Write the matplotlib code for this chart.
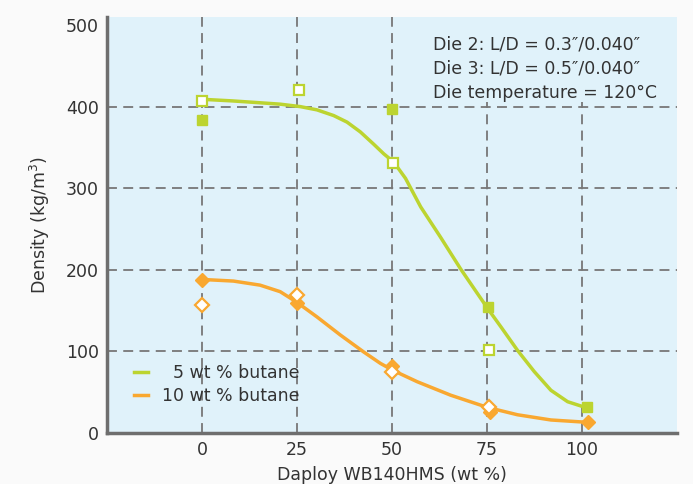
import matplotlib
matplotlib.use('Agg')
import matplotlib.pyplot as plt
from matplotlib.patches import Rectangle

plt.rcParams['font.family'] = ['DejaVu Sans']

GREEN = '#bcd430'
ORANGE = '#f9a830'
BG = '#e0f2fa'

# 5 wt % butane
g_fill_x = [0, 50, 75.4, 101.5]
g_fill_y = [383, 397, 154, 31]
g_open_x = [0, 25.6, 50.4, 75.5]
g_open_y = [407, 420, 331, 101]
g_curve_x = [0, 8, 14.4, 20.6, 25.9, 30.3, 34.7, 38.2, 41.7, 45.2, 47.9, 50.5, 53.6,
             57.6, 62.8, 68.1, 72.5, 75.6, 78.7, 83.1, 87.5, 91.9, 96.3, 100.3, 101.6]
g_curve_y = [409, 407, 405, 403, 400, 396, 389, 381, 369, 354, 342, 332, 312,
             277, 240, 201, 171, 150, 130, 101, 75, 52, 38, 32, 31]

# 10 wt % butane
o_fill_x = [0, 25, 50, 75.8, 101.7]
o_fill_y = [187, 159, 82, 26, 13]
o_open_x = [0, 25, 50, 75.6]
o_open_y = [157, 169, 74, 32]
o_curve_x = [0, 8.3, 15.3, 20.6, 25, 30.3, 36.4, 42.6, 47, 50.5, 56.7, 65.5, 75.2,
             83.1, 91.9, 101.6]
o_curve_y = [188, 186, 181, 173, 160, 142, 120, 99, 85, 76, 62.5, 46, 31,
             22, 15.6, 12.7]

xticks = [0, 25, 50, 75, 100]
yticks = [0, 100, 200, 300, 400, 500]
grid_y = [100, 200, 300, 400]

fig = plt.figure(figsize=(6.93, 4.84), dpi=100, facecolor='#fafafa')
ax = fig.add_axes([0.1544, 0.106, 0.822, 0.859])
ax.set_facecolor(BG)

for gx in xticks:
    ax.axvline(gx, color='#777777', ls=(0, (5.5, 3.5)), lw=1.3, zorder=1)
for gy in grid_y:
    ax.axhline(gy, color='#777777', ls=(0, (5.5, 3.5)), lw=1.3, zorder=1)

# the note box hides the grid behind it
ax.add_patch(Rectangle((0.558, 0.795), 0.442, 0.205, transform=ax.transAxes,
                       facecolor=BG, edgecolor='none', zorder=1.5))

ax.plot(g_curve_x, g_curve_y, color=GREEN, lw=2.5, zorder=2, label='\u20075 wt % butane')
ax.plot(o_curve_x, o_curve_y, color=ORANGE, lw=2.5, zorder=2, label='10 wt % butane')

ax.plot(g_fill_x, g_fill_y, ls='none', marker='s', ms=7, color=GREEN, zorder=3)
ax.plot(g_open_x, g_open_y, ls='none', marker='s', ms=7, mfc='white', mec=GREEN, mew=1.6, zorder=3)
ax.plot(o_fill_x, o_fill_y, ls='none', marker='D', ms=7, color=ORANGE, zorder=3)
ax.plot(o_open_x, o_open_y, ls='none', marker='D', ms=7, mfc='white', mec=ORANGE, mew=1.6, zorder=4)

ax.set_xlim(-25, 125)
ax.set_ylim(0, 510)
ax.set_xticks(xticks)
ax.set_yticks(yticks)
ax.tick_params(length=0, labelsize=12.5, colors='#333333', pad=6)

for s in ['top', 'right']:
    ax.spines[s].set_visible(False)
for s in ['left', 'bottom']:
    ax.spines[s].set_color('#6e6e6e')
    ax.spines[s].set_linewidth(2.5)

ax.set_xlabel('Daploy WB140HMS (wt %)', fontsize=12.5, color='#333333', labelpad=5)
ax.set_ylabel('Density (kg/m$^3$)', fontsize=12.5, color='#333333', labelpad=10)

ax.text(0.573, 0.955, 'Die 2: L/D = 0.3\u2033/0.040\u2033\nDie 3: L/D = 0.5\u2033/0.040\u2033\nDie temperature = 120\u00b0C',
        transform=ax.transAxes, ha='left', va='top', fontsize=12.5, color='#333333',
        linespacing=1.45, zorder=2)

leg = ax.legend(loc='lower left', bbox_to_anchor=(0.02, 0.03), frameon=False, fontsize=12.5,
                handlelength=0.8, handletextpad=0.8, labelspacing=0.25)
for t in leg.get_texts():
    t.set_color('#333333')

fig.savefig('out.png', dpi=100, facecolor=fig.get_facecolor())
